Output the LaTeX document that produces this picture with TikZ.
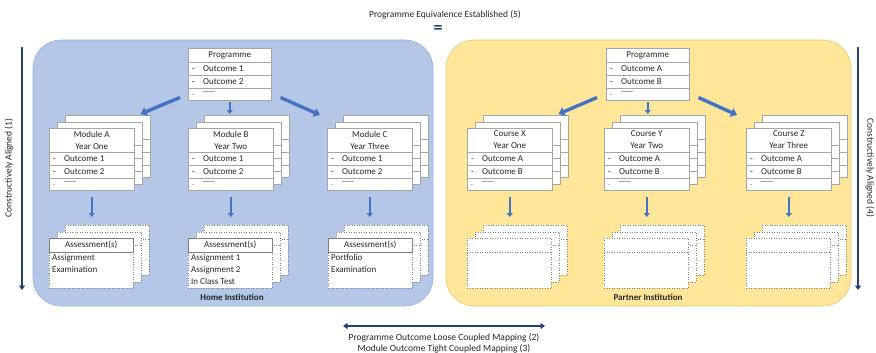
\documentclass[tikz,border=0pt]{standalone}
\usepackage{fontspec}
\setmainfont{Carlito}
\usetikzlibrary{calc,arrows.meta}
\definecolor{panelblue}{HTML}{B4C7E7}
\definecolor{panelblueedge}{HTML}{9DB2D8}
\definecolor{panelyellow}{HTML}{FFE699}
\definecolor{panelyellowedge}{HTML}{E3C978}
\definecolor{arrowblue}{HTML}{4472C4}
\definecolor{navy}{HTML}{24406F}
\definecolor{sheetgray}{HTML}{A6A6A6}
\definecolor{txtgray}{HTML}{262626}
\tikzset{
  sheet/.style={draw=sheetgray, fill=white, line width=0.5pt, inner sep=0pt, anchor=north west,
    minimum width=85pt, minimum height=62pt},
  progsheet/.style={sheet, minimum width=83pt, minimum height=52pt},
  asheet/.style={sheet, draw=gray, dotted, minimum width=84pt, minimum height=50pt},
  rowline/.style={draw=sheetgray, line width=0.5pt},
  dotline/.style={draw=gray, line width=0.5pt, dotted},
  txt/.style={font=\fontsize{9}{12}\selectfont, inner sep=0pt, text=txtgray},
  bigarrow/.style={draw=arrowblue, line width=3.4pt, -{Triangle[length=6pt,width=9pt]}},
  smallarrow/.style={draw=arrowblue, line width=2.2pt, -{Triangle[length=4pt,width=6pt]}},
  navyarrow/.style={draw=navy, line width=2.4pt, -{Triangle[length=4.5pt,width=6pt]}},
  navydarrow/.style={draw=navy, line width=2.4pt, {Triangle[length=4.5pt,width=6pt]}-{Triangle[length=4.5pt,width=6pt]}},
  panel/.style={rounded corners=28pt, line width=0.6pt},
  inst/.style={font=\fontsize{9}{11}\selectfont\bfseries, inner sep=0pt, text=txtgray},
  outer/.style={font=\fontsize{9.5}{12}\selectfont, inner sep=0pt, text=txtgray}
}
\newcommand\mytildes{{\fontsize{6}{6}\selectfont\textasciitilde\textasciitilde\textasciitilde\textasciitilde}}
\newcommand\dashitem[1]{\makebox[11pt][l]{-}#1}
% one module sheet: name, x, y
\newcommand\msheet[3]{%
  \node[sheet] (#1) at (#2,#3) {};
  \foreach \d in {24,37,50}{\draw[rowline] ([yshift=-\d pt]#1.north west) -- ([yshift=-\d pt]#1.north east);}
}
% module stack: name, x, y, line1, line2, outcome1, outcome2
\newcommand\mstack[7]{%
  \msheet{#1c}{#2+16}{#3-13}
  \msheet{#1b}{#2+8}{#3-6.5}
  \msheet{#1}{#2}{#3}
  \node[txt, align=center] (#1t) at ([yshift=-12pt]#1.north) {#4\\#5};
  \node[txt, anchor=west] (#1o1) at ([xshift=4pt,yshift=-30.5pt]#1.north west) {\dashitem{#6}};
  \node[txt, anchor=west] (#1o2) at ([xshift=4pt,yshift=-43.5pt]#1.north west) {\dashitem{#7}};
  \node[txt, anchor=west] (#1o3) at ([xshift=4pt,yshift=-56pt]#1.north west) {\makebox[11pt][l]{\fontsize{6}{6}\selectfont -}\raisebox{3pt}{\mytildes}};
}
% programme box: name, x, y, outcome1, outcome2
\newcommand\progbox[5]{%
  \node[progsheet] (#1) at (#2,#3) {};
  \foreach \d in {14,27,40}{\draw[rowline] ([yshift=-\d pt]#1.north west) -- ([yshift=-\d pt]#1.north east);}
  \node[txt] (#1t) at ([yshift=-7pt]#1.north) {Programme};
  \node[txt, anchor=west] (#1o1) at ([xshift=4pt,yshift=-20.5pt]#1.north west) {\dashitem{#4}};
  \node[txt, anchor=west] (#1o2) at ([xshift=4pt,yshift=-33.5pt]#1.north west) {\dashitem{#5}};
  \node[txt, anchor=west] (#1o3) at ([xshift=4pt,yshift=-46pt]#1.north west) {\makebox[11pt][l]{\fontsize{6}{6}\selectfont -}\raisebox{3pt}{\mytildes}};
}
% one assessment sheet: name, x, y
\newcommand\asheetc[3]{%
  \node[asheet] (#1) at (#2,#3) {};
  \draw[dotline] ([yshift=-14pt]#1.north west) -- ([yshift=-14pt]#1.north east);
}
% assessment stack: name, x, y, title, content
\newcommand\astack[5]{%
  \asheetc{#1c}{#2+16}{#3-13}
  \asheetc{#1b}{#2+8}{#3-6.5}
  \asheetc{#1}{#2}{#3}
  \node[txt] (#1t) at ([yshift=-7pt]#1.north) {#4};
  \node[txt, anchor=north west, align=left] (#1x) at ([xshift=3pt,yshift=-16.5pt]#1.north west) {#5};
}
\newcommand\atitlebox[1]{%
  \draw[rowline, draw=gray] (#1.north west) rectangle ([yshift=-14pt]#1.north east);
}
\begin{document}
\begin{tikzpicture}[x=1pt,y=-1pt]
\useasboundingbox (0,0) rectangle (876,353);
\fill[white] (0,0) rectangle (876,353);

% panels
\path[panel, fill=panelblue, draw=panelblueedge] (33,40) rectangle (433,306);
\path[panel, fill=panelyellow, draw=panelyellowedge] (446,40) rectangle (851,306);

% title
\node[outer] (title) at (445,15) {Programme Equivalence Established (5)};
\node[inner sep=0pt, text=navy, font=\fontsize{18}{18}\selectfont\bfseries] (eq) at (438,29) {=};

% home institution
\progbox{pL}{188}{48}{Outcome 1}{Outcome 2}
\mstack{mA}{49}{128}{Module A}{Year One}{Outcome 1}{Outcome 2}
\mstack{mB}{188}{128}{Module B}{Year Two}{Outcome 1}{Outcome 2}
\mstack{mC}{327}{128}{Module C}{Year Three}{Outcome 1}{Outcome 2}
\astack{aA}{49}{238}{Assessment(s)}{Assignment\\Examination}
\astack{aB}{188}{238}{Assessment(s)}{Assignment 1\\Assignment 2\\In Class Test}
\astack{aC}{328}{238}{Assessment(s)}{Portfolio\\Examination}
\atitlebox{aA}\atitlebox{aB}\atitlebox{aC}
\node[inst] (home) at (232,297) {Home Institution};

% partner institution
\progbox{pR}{606}{48}{Outcome A}{Outcome B}
\mstack{cX}{467}{128}{Course X}{Year One}{Outcome A}{Outcome B}
\mstack{cY}{604}{128}{Course Y}{Year Two}{Outcome A}{Outcome B}
\mstack{cZ}{746}{128}{Course Z}{Year Three}{Outcome A}{Outcome B}
\astack{aX}{467}{238}{}{}
\astack{aY}{604}{238}{}{}
\astack{aZ}{746}{238}{}{}
\node[inst] (partner) at (648,297) {Partner Institution};

% programme -> module arrows
\draw[bigarrow] ($(pL.south west)+(-8,-3)$) -- ($(mAc.north east)+(-10,-1)$);
\draw[smallarrow] ([yshift=-2pt]pL.south) -- ($(pL.south |- mBc.north)+(0,-1)$);
\draw[bigarrow] ($(pL.south east)+(9,-3)$) -- ($(mC.north west)+(-7,-13)$);
\draw[bigarrow] ($(pR.south west)+(-9,-3)$) -- ($(cXc.north east)+(-10,-1)$);
\draw[smallarrow] ([yshift=-2pt]pR.south) -- ($(pR.south |- cYc.north)+(0,-1)$);
\draw[bigarrow] ($(pR.south east)+(9,-3)$) -- ($(cZ.north west)+(-9,-13)$);

% module -> assessment arrows
\foreach \m/\a in {mA/aA,mB/aB,mC/aC,cX/aX,cY/aY,cZ/aZ}{
  \draw[smallarrow] ([yshift=-6pt]\m.south) -- ($(\m.south |- \a c.north)+(0,-8)$);
}

% side arrows
\coordinate (la1) at (22,47);
\coordinate (la2) at (22,290);
\coordinate (ra1) at (858,47);
\coordinate (ra2) at (858,290);
\coordinate (ba1) at (343,326);
\coordinate (ba2) at (545,326);
\draw[navyarrow] (la1) -- (la2);
\draw[navyarrow] (ra1) -- (ra2);
\draw[navydarrow] (ba1) -- (ba2);
\node[outer, rotate=90] (ll) at (9,168) {Constructively Aligned (1)};
\node[outer, rotate=-90] (rl) at (870,168) {Constructively Aligned (4)};
\node[outer] (bl1) at (444,338) {Programme Outcome Loose Coupled Mapping (2)};
\node[outer] (bl2) at (444,348.5) {Module Outcome Tight Coupled Mapping (3)};
\end{tikzpicture}
\end{document}
